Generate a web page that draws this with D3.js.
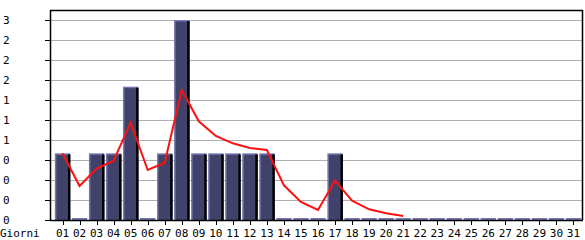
<!DOCTYPE html>
<html>
<head>
<meta charset="utf-8">
<script src="https://cdn.jsdelivr.net/npm/d3@7"></script>
<style>
  body { margin: 0; background: #fff; }
  svg text { font-family: "DejaVu Sans Mono", monospace; font-size: 11px; fill: #000; }
</style>
</head>
<body>
<div id="chart"></div>
<script>
// categories (days of month) and values
const days = ['01','02','03','04','05','06','07','08','09','10','11','12','13','14','15','16',
              '17','18','19','20','21','22','23','24','25','26','27','28','29','30','31'];
const counts = [1, 0, 1, 1, 2, 0, 1, 3, 1, 1, 1, 1, 1, 0, 0, 0,
                1, 0, 0, 0, 0, 0, 0, 0, 0, 0, 0, 0, 0, 0, 0];
// red trend line, only up to day 21
const trend = [1.0, 0.51, 0.77, 0.89, 1.46, 0.75, 0.86, 1.95, 1.48, 1.26, 1.15, 1.08, 1.05,
               0.52, 0.27, 0.15, 0.59, 0.29, 0.16, 0.10, 0.06];
const yTickValues = [0, 0.3, 0.6, 0.9, 1.2, 1.5, 1.8, 2.1, 2.4, 2.7, 3.0];
const yTickLabels = ['0','0','0','0','1','1','1','2','2','2','3'];
const xTitle = 'Giorni';

(function() {
  const W = 585, H = 240;
  const left = 50, right = 582, top = 10, bottom = 220;

  const svg = d3.select('#chart').append('svg')
    .attr('width', W)
    .attr('height', H);

  const x = d3.scaleBand()
    .domain(days)
    .range([54, right])
    .paddingInner(0.1)
    .paddingOuter(0.05);
  const y = d3.scaleLinear().domain([0, 3]).range([bottom, 20]);

  // grid lines
  svg.append('g')
    .selectAll('line')
    .data(yTickValues.slice(1))
    .join('line')
    .attr('x1', left).attr('x2', right)
    .attr('y1', d => Math.round(y(d)) + 0.5)
    .attr('y2', d => Math.round(y(d)) + 0.5)
    .attr('stroke', '#b0b0b0')
    .attr('stroke-width', 1);

  // bars
  const bw = x.bandwidth();
  const bars = svg.append('g')
    .selectAll('g')
    .data(days.map((d, i) => ({day: d, v: counts[i]})))
    .join('g');

  bars.append('rect')
    .attr('x', d => x(d.day))
    .attr('y', d => d.v > 0 ? y(d.v) : bottom - 2)
    .attr('width', bw)
    .attr('height', d => d.v > 0 ? bottom - y(d.v) : 2)
    .attr('fill', '#7676b0');

  bars.filter(d => d.v > 0).append('rect')
    .attr('x', d => x(d.day) + 1.5)
    .attr('y', d => y(d.v) + 1.5)
    .attr('width', bw - 1.5)
    .attr('height', d => bottom - y(d.v) - 1.5)
    .attr('fill', '#40426a');

  bars.filter(d => d.v > 0).append('rect')
    .attr('x', d => x(d.day) + bw - 2.2)
    .attr('y', d => y(d.v) + 1)
    .attr('width', 2.4)
    .attr('height', d => bottom - y(d.v) - 1)
    .attr('fill', '#000');

  // trend line
  const line = d3.line()
    .x((d, i) => x(days[i]) + bw / 2)
    .y(d => y(d));

  svg.append('path')
    .datum(trend)
    .attr('d', line)
    .attr('fill', 'none')
    .attr('stroke', '#ff1010')
    .attr('stroke-width', 2);

  // frame: top and right
  svg.append('path')
    .attr('d', `M${left},${top + 0.5}H${right + 0.5}V${bottom}`)
    .attr('fill', 'none')
    .attr('stroke', '#000')
    .attr('stroke-width', 1.5);

  // y axis
  const yAxis = svg.append('g');
  yAxis.append('line')
    .attr('x1', left + 0.5).attr('x2', left + 0.5)
    .attr('y1', top).attr('y2', bottom + 1)
    .attr('stroke', '#000').attr('stroke-width', 1.5);
  yAxis.selectAll('.tick')
    .data(yTickValues)
    .join('line')
    .attr('x1', left - 5).attr('x2', left)
    .attr('y1', d => Math.round(y(d)) + 0.5)
    .attr('y2', d => Math.round(y(d)) + 0.5)
    .attr('stroke', '#000');
  yAxis.selectAll('text')
    .data(yTickValues)
    .join('text')
    .attr('x', 3)
    .attr('y', d => y(d) + 3.5)
    .text((d, i) => yTickLabels[i]);

  // x axis
  const xAxis = svg.append('g');
  xAxis.append('line')
    .attr('x1', left).attr('x2', right + 1)
    .attr('y1', bottom + 0.5).attr('y2', bottom + 0.5)
    .attr('stroke', '#000').attr('stroke-width', 1.5);
  xAxis.selectAll('.tick')
    .data(days)
    .join('line')
    .attr('x1', d => Math.round(x(d) + bw / 2) + 0.5)
    .attr('x2', d => Math.round(x(d) + bw / 2) + 0.5)
    .attr('y1', bottom).attr('y2', bottom + 5)
    .attr('stroke', '#000');
  xAxis.selectAll('text')
    .data(days)
    .join('text')
    .attr('x', d => x(d) + bw / 2)
    .attr('y', 237)
    .attr('text-anchor', 'middle')
    .text(d => d);

  svg.append('text')
    .attr('x', 0)
    .attr('y', 237)
    .text(xTitle);
}());
</script>
</body>
</html>
